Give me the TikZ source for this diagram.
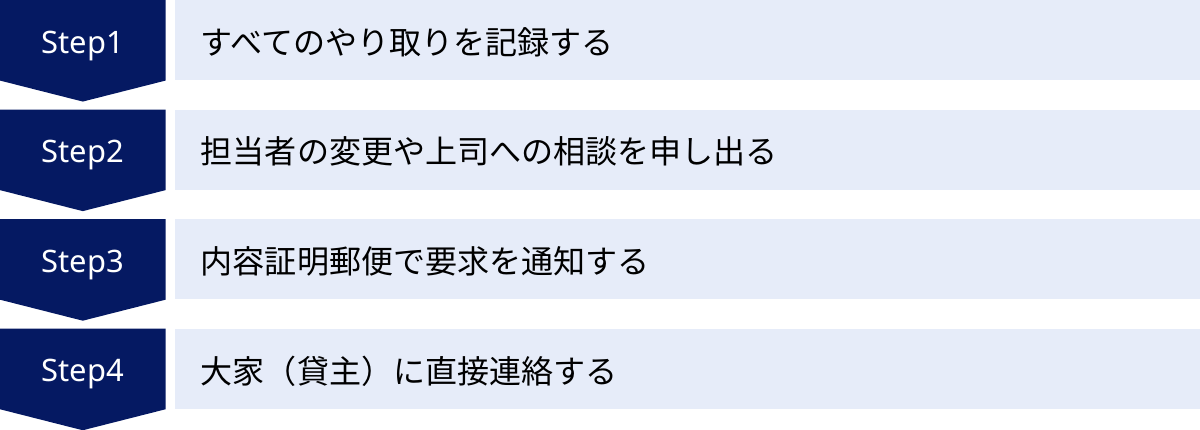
\documentclass[tikz,border=0pt]{standalone}
\usepackage{fontspec}
\setmainfont{Noto Sans}
\newfontfamily\jpfont{Noto Sans CJK JP}
\usetikzlibrary{positioning, calc, backgrounds}

\definecolor{stepnavy}{RGB}{5,25,98}
\definecolor{tasklight}{RGB}{230,236,249}

\begin{document}
\begin{tikzpicture}[
  node distance=0.725cm and 0.225cm,
  stepbox/.style={rectangle, minimum width=4.125cm, minimum height=2cm, inner sep=0pt, text height=18.5pt, text depth=0pt, text=white, font=\fontsize{22}{26}\selectfont},
  taskbox/.style={rectangle, fill=tasklight, minimum width=25.65cm, minimum height=2cm, text width=24.35cm, inner xsep=0.65cm, inner ysep=0pt, text height=20pt, text depth=0pt, align=left, font=\jpfont\fontsize{22.8}{26}\selectfont},
  tip/.style={fill=stepnavy}
]
\useasboundingbox (0,0) rectangle (30,-10.725);

% Steps
\node[stepbox, anchor=north west] (s1) at (0,0) {Step1};
\node[stepbox, below=of s1] (s2) {Step2};
\node[stepbox, below=of s2] (s3) {Step3};
\node[stepbox, below=of s3] (s4) {Step4};

% Tasks
\node[taskbox, right=of s1] (t1) {すべてのやり取りを記録する};
\node[taskbox, right=of s2] (t2) {担当者の変更や上司への相談を申し出る};
\node[taskbox, right=of s3] (t3) {内容証明郵便で要求を通知する};
\node[taskbox, right=of s4] (t4) {大家（貸主）に直接連絡する};

% Arrow shapes
\begin{scope}[on background layer]
\foreach \s in {s1, s2, s3, s4}
  \fill[tip] (\s.north west) -- (\s.north east) -- (\s.south east)
    -- ($(\s.south)+(0,-0.525)$) -- (\s.south west) -- cycle;
\end{scope}

\end{tikzpicture}
\end{document}
